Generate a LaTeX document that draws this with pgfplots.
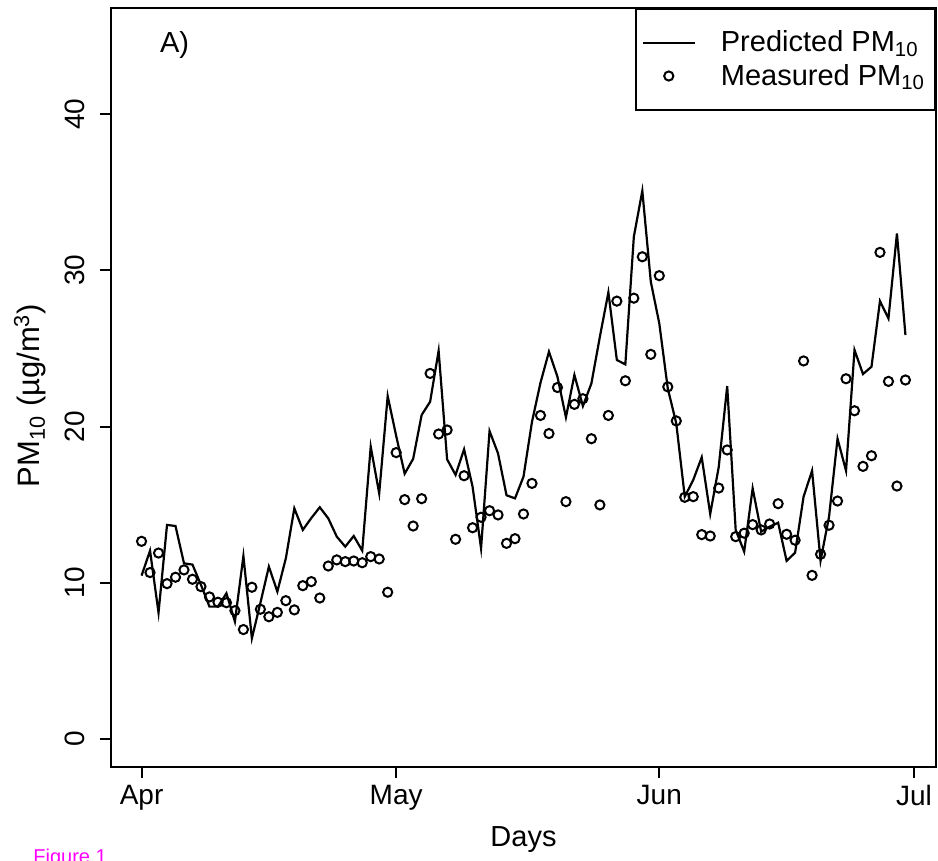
\documentclass[border=0pt]{standalone}
\usepackage{fontspec}
\setmainfont{Liberation Sans}
\usepackage{pgfplots}
\pgfplotsset{compat=1.18}
\usepackage{pgfplotstable}
\definecolor{figmag}{RGB}{255,0,255}
\pgfplotsset{
  lineleg/.style={legend image code/.code={\draw[##1] (0pt,0pt) -- (26pt,0pt);}},
  markleg/.style={legend image code/.code={\draw[mark repeat=2,mark phase=2,##1] plot coordinates {(0pt,0pt) (13pt,0pt) (26pt,0pt)};}},
}

\pgfplotstableread{
day pred meas
0 10.45 12.65
1 12.05 10.65
2 8.08 11.90
3 13.70 9.94
4 13.63 10.35
5 11.24 10.82
6 11.16 10.22
7 9.86 9.75
8 8.47 9.09
9 8.47 8.75
10 9.32 8.72
11 7.51 8.21
12 11.71 7.00
13 6.44 9.71
14 8.70 8.30
15 11.03 7.82
16 9.43 8.10
17 11.56 8.85
18 14.76 8.26
19 13.38 9.81
20 14.14 10.07
21 14.83 9.02
22 14.12 11.07
23 12.95 11.46
24 12.31 11.35
25 12.99 11.39
26 12.05 11.28
27 18.71 11.67
28 15.72 11.52
29 21.95 9.39
30 19.40 18.33
31 16.98 15.32
32 17.93 13.63
33 20.74 15.38
34 21.59 23.40
35 24.85 19.52
36 17.90 19.78
37 16.90 12.78
38 18.54 16.85
39 16.15 13.52
40 12.20 14.19
41 19.71 14.61
42 18.28 14.34
43 15.60 12.52
44 15.40 12.82
45 16.79 14.40
46 20.30 16.36
47 22.80 20.71
48 24.79 19.55
49 23.19 22.50
50 20.59 15.19
51 23.30 21.42
52 21.31 21.78
53 22.76 19.22
54 25.75 14.98
55 28.59 20.71
56 24.26 28.03
57 23.98 22.93
58 32.15 28.22
59 35.09 30.87
60 29.27 24.62
61 26.60 29.66
62 22.44 22.54
63 20.20 20.36
64 15.51 15.47
65 16.58 15.51
66 18.03 13.08
67 14.40 12.99
68 17.40 16.06
69 22.59 18.50
70 13.38 12.95
71 11.99 13.17
72 16.04 13.72
73 13.27 13.38
74 13.59 13.76
75 13.84 15.06
76 11.40 13.10
77 11.92 12.72
78 15.51 24.20
79 17.17 10.47
80 11.41 11.82
81 14.23 13.68
82 19.22 15.23
83 17.17 23.06
84 24.90 21.01
85 23.36 17.45
86 23.83 18.13
87 28.03 31.15
88 26.92 22.89
89 32.36 16.19
90 25.86 22.98
}\datatable

\begin{document}
\begin{tikzpicture}
\begin{axis}[
  scale only axis, width=412.5pt, height=379.5pt,
  xmin=-3.6, xmax=93.6, ymin=-1.8, ymax=46.8,
  axis line style={line width=1pt},
  tick style={line width=1pt, black},
  major tick length=5.5pt, tick align=outside, tick pos=left,
  xtick={0,30,61,91}, xticklabels={Apr,May,Jun,Jul},
  ytick={0,10,20,30,40},
  /pgf/number format/assume math mode=true,
  font=\fontsize{14.5}{17}\selectfont,
  ticklabel style={font=\fontsize{14}{16}\selectfont},
  yticklabel style={rotate=90, anchor=south},
  yticklabel shift=4pt,
  xlabel={Days},
  ylabel={PM\textsubscript{10} (µg/m\textsuperscript{3})},
  xlabel style={at={([yshift=-36.5pt]axis description cs:0.5,0)}, anchor=center},
  ylabel style={at={([xshift=-40.5pt,yshift=-4pt]axis description cs:0,0.5)}, anchor=center,
    font=\fontsize{15.5}{18}\selectfont},
  legend style={at={(1,1)}, anchor=north east, draw=black, line width=1pt,
    font=\fontsize{14.5}{17}\selectfont, inner xsep=3pt, inner ysep=9pt,
    row sep=0.5pt, column sep=10.5pt},
  legend cell align=left,
]
\addplot[black, line width=1.1pt, mark=none, lineleg]
  table[x=day, y=pred] {\datatable};
\addlegendentry{Predicted PM\textsubscript{10}}
\addplot[black, only marks, mark=o, mark size=2.3pt, mark options={line width=1pt}, markleg]
  table[x=day, y=meas] {\datatable};
\addlegendentry{Measured PM\textsubscript{10}}
\node at (axis cs:3.9,44.4) {A)};
\end{axis}
\node[anchor=base west, inner sep=0pt, text=figmag, font=\fontsize{10}{12}\selectfont] at (-39pt,-48.5pt) {Figure 1};
\pgfresetboundingbox
\useasboundingbox (-55.5pt,-47pt) rectangle (413.5pt,383.5pt);
\end{tikzpicture}
\end{document}
